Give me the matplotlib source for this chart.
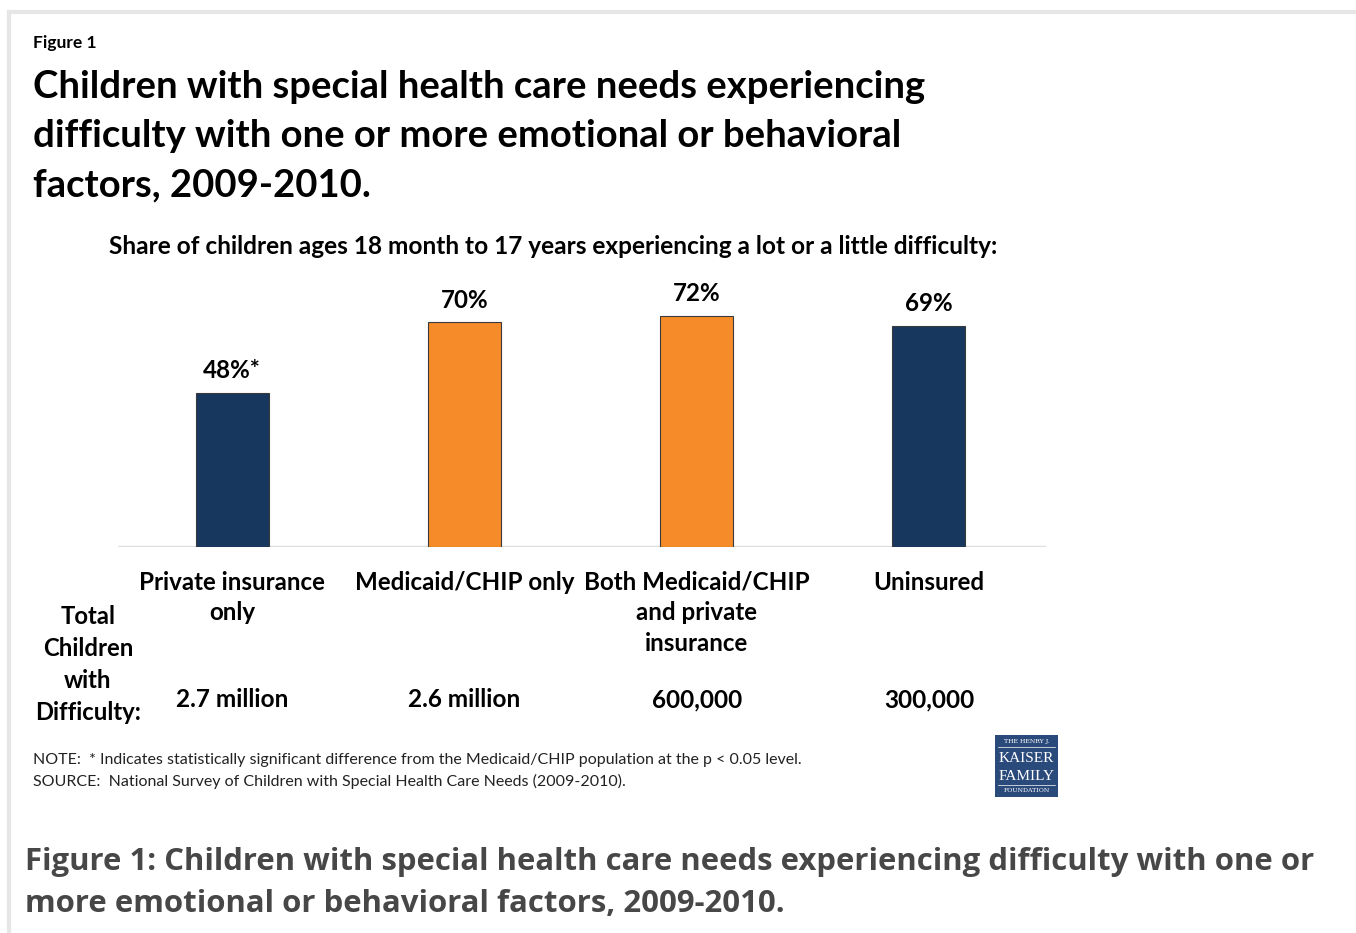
import matplotlib
matplotlib.use('Agg')
import matplotlib.pyplot as plt
from matplotlib.patches import Rectangle
from matplotlib.lines import Line2D

# data
categories = ["Private insurance\nonly", "Medicaid/CHIP only",
              "Both Medicaid/CHIP\nand private\ninsurance", "Uninsured"]
shares = [48, 70, 72, 69]
share_labels = ["48%*", "70%", "72%", "69%"]
totals = ["2.7 million", "2.6 million", "600,000", "300,000"]
bar_colors = ["#17375E", "#F68B29", "#F68B29", "#17375E"]

W, H = 1356, 933
FONT = "Lato"
CAPTION_FONT = "Open Sans"

fig = plt.figure(figsize=(W / 100, H / 100), dpi=100)
fig.patch.set_facecolor("white")


def fx(x):
    return x / W


def fy(y):
    return 1 - y / H


# card border (top and left)
fig.add_artist(Line2D([fx(9), fx(1355)], [fy(12), fy(12)], color="#e6e6e6", lw=3))
fig.add_artist(Line2D([fx(9), fx(9)], [fy(12), fy(933)], color="#e6e6e6", lw=3))

# header
fig.text(fx(33), fy(43), "Figure 1", fontsize=12.5, fontweight="bold",
         family=FONT, va="center", ha="left")
title_lines = ["Children with special health care needs experiencing",
               "difficulty with one or more emotional or behavioral",
               "factors, 2009-2010."]
for i, line in enumerate(title_lines):
    fig.text(fx(33), fy(87 + 49 * i), line, fontsize=27.5, fontweight="bold",
             family=FONT, va="center", ha="left")

fig.text(fx(553), fy(247),
         "Share of children ages 18 month to 17 years experiencing a lot or a little difficulty:",
         fontsize=17.6, fontweight="bold", family=FONT, va="center", ha="center")

# chart
base_y = 547
ax = fig.add_axes([fx(118), fy(base_y), fx(1046) - fx(118), 321 / H])
x = list(range(len(categories)))
ax.bar(x, shares, width=0.314, color=bar_colors, edgecolor="#3a3a3a", linewidth=0.8,
       zorder=3)
ax.set_xlim(-0.491, 3.504)
ax.set_ylim(0, 100)
ax.axhline(0, color="#dedede", lw=2.5, zorder=2)
ax.set_axis_off()

for xi, v, lab in zip(x, shares, share_labels):
    ax.annotate(lab, (xi, v), xytext=(0, 16), textcoords="offset points",
                ha="center", va="center", fontsize=17.4, fontweight="bold", family=FONT)

for xi, cat in zip(x, categories):
    ax.annotate(cat, (xi, 0), xytext=(0, -17), textcoords="offset points",
                ha="center", va="top", fontsize=17.4, fontweight="bold", family=FONT,
                linespacing=1.4, annotation_clip=False)

for xi, t in zip(x, totals):
    ax.annotate(t, (xi, 0), xytext=(0, -110), textcoords="offset points",
                ha="center", va="center", fontsize=17.6, fontweight="bold", family=FONT,
                annotation_clip=False)

for i, w in enumerate(["Total", "Children", "with", "Difficulty:"]):
    fig.text(fx(88), fy(616 + 32 * i), w, fontsize=17.2, fontweight="bold",
             family=FONT, ha="center", va="center")

# notes
fig.text(fx(33), fy(760),
         "NOTE:  * Indicates statistically significant difference from the Medicaid/CHIP population at the p < 0.05 level.",
         fontsize=11.5, family=FONT, color="#222222", va="center", ha="left")
fig.text(fx(33), fy(781),
         "SOURCE:  National Survey of Children with Special Health Care Needs (2009-2010).",
         fontsize=11.5, family=FONT, color="#222222", va="center", ha="left")

# logo
fig.add_artist(Rectangle((fx(995), fy(797)), fx(1058) - fx(995), (797 - 735) / H,
                         facecolor="#2a4a7c", edgecolor="none"))
fig.text(fx(1026.5), fy(742), "THE HENRY J.", fontsize=4.5, family="DejaVu Serif",
         color="white", ha="center", va="center")
fig.text(fx(1026.5), fy(758), "KAISER", fontsize=11, family="Liberation Serif",
         color="white", ha="center", va="center")
fig.text(fx(1026.5), fy(776), "FAMILY", fontsize=11, family="Liberation Serif",
         color="white", ha="center", va="center")
fig.text(fx(1026.5), fy(790), "FOUNDATION", fontsize=4.5, family="DejaVu Serif",
         color="white", ha="center", va="center")
fig.add_artist(Line2D([fx(998), fx(1055)], [fy(747), fy(747)], color="white", lw=0.5))
fig.add_artist(Line2D([fx(998), fx(1055)], [fy(785), fy(785)], color="white", lw=0.5))

# caption
fig.text(fx(25), fy(862),
         "Figure 1: Children with special health care needs experiencing difficulty with one or",
         fontsize=22.4, fontweight="bold", family=CAPTION_FONT, color="#474747",
         va="center", ha="left")
fig.text(fx(25), fy(904), "more emotional or behavioral factors, 2009-2010.",
         fontsize=22.4, fontweight="bold", family=CAPTION_FONT, color="#474747",
         va="center", ha="left")

fig.savefig("out.png", dpi=100)
